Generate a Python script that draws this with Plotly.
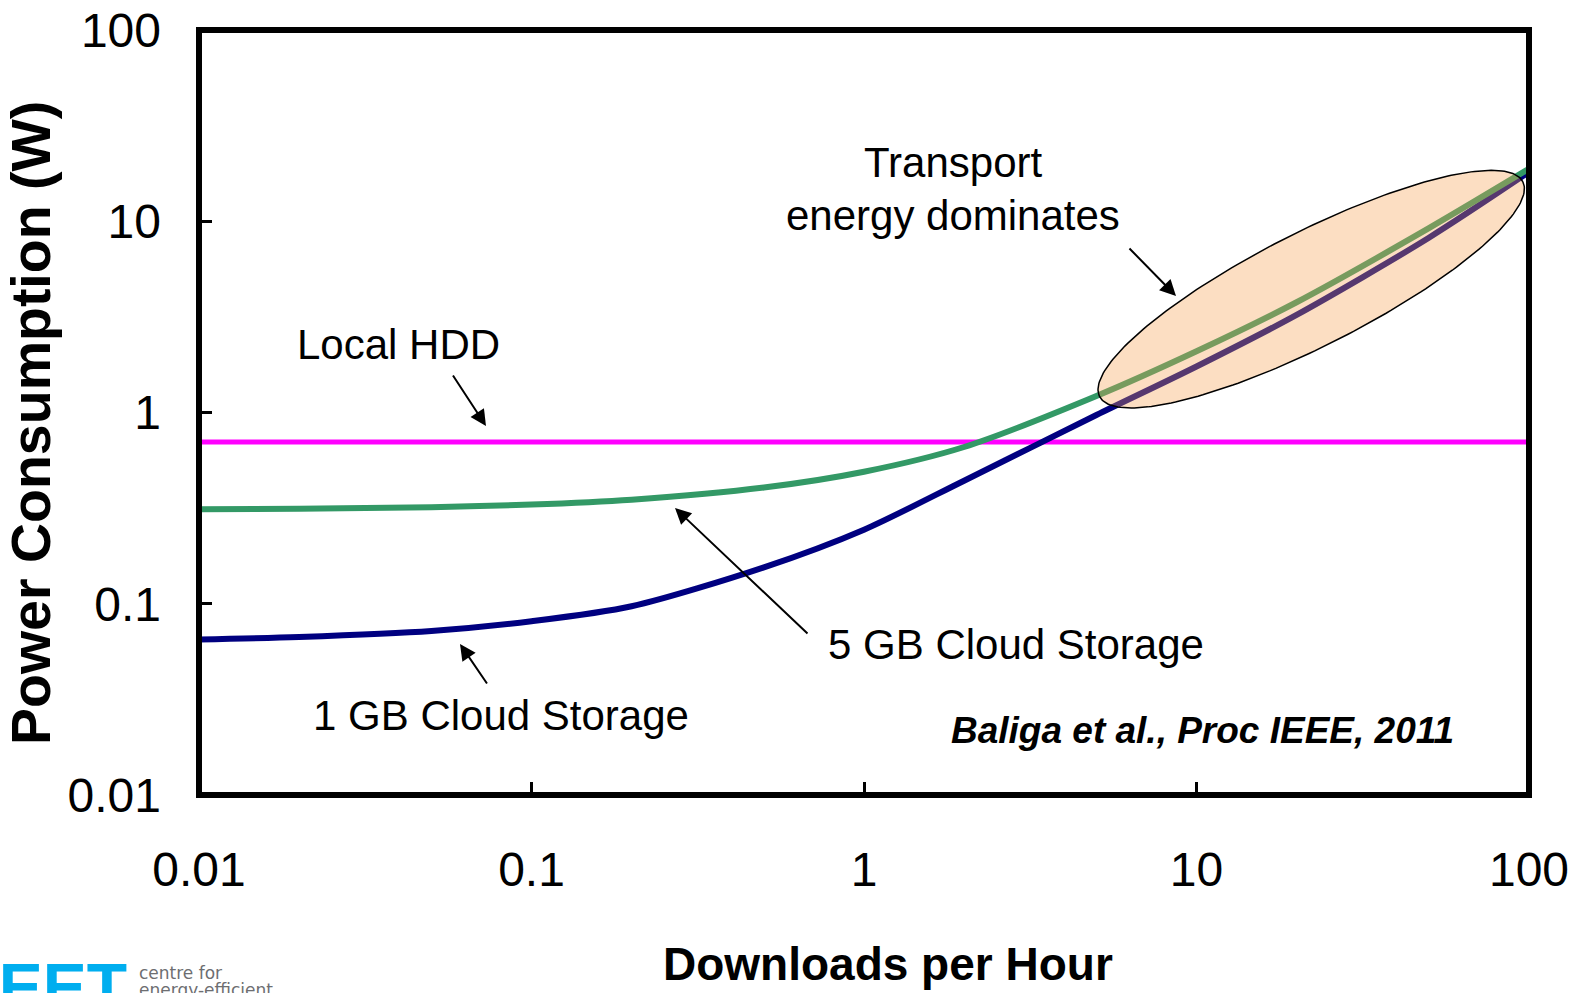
import numpy as np
import plotly.graph_objects as go

# Downloads per hour (x) and power consumption in watts (y)
downloads = [0.01, 0.02, 0.05, 0.1, 0.2, 0.5, 1, 2, 5, 10, 20, 50, 100]
cloud_1gb = [0.065, 0.067, 0.072, 0.081, 0.097, 0.155, 0.244, 0.44, 0.97, 1.74, 3.24, 8.2, 18.1]
cloud_5gb = [0.312, 0.314, 0.32, 0.33, 0.35, 0.405, 0.49, 0.66, 1.22, 2.09, 3.77, 9.2, 18.8]
local_hdd_x = [0.01, 100]
local_hdd = [0.70, 0.70]

tick_vals = [0.01, 0.1, 1, 10, 100]
tick_text = ["0.01", "0.1", "1", "10", "100"]

# Page / plot-area geometry (pixels)
FIG_W, FIG_H = 1585, 993
L, T, R, B = 199, 30, 56, 198
PW, PH = FIG_W - L - R, FIG_H - T - B


def px(xp):
    return (xp - L) / PW


def py(yp):
    return (T + PH - yp) / PH


FONT = "Liberation Sans, Arial, sans-serif"

fig = go.Figure()

fig.add_trace(go.Scatter(x=local_hdd_x, y=local_hdd, mode="lines",
                         line=dict(color="#FF00FF", width=5), name="Local HDD"))
fig.add_trace(go.Scatter(x=downloads, y=cloud_1gb, mode="lines",
                         line=dict(color="#000080", width=6, shape="spline", smoothing=0.8),
                         name="1 GB Cloud Storage"))
fig.add_trace(go.Scatter(x=downloads, y=cloud_5gb, mode="lines",
                         line=dict(color="#339966", width=6, shape="spline", smoothing=0.8),
                         name="5 GB Cloud Storage"))

# Highlight ellipse around the transport-dominated region (in log10 axis units)
ell_cx, ell_cy = 1.345, 0.645          # centre: log10(downloads), log10(W)
ell_a, ell_b = 237.3, 57.0             # semi-axes in screen pixels
ell_ang = np.deg2rad(26.9)
xdec, ydec = PW / 4.0, PH / 4.0        # pixels per decade on each axis
t = np.linspace(0, 2 * np.pi, 241)
dx = ell_a * np.cos(ell_ang) * np.cos(t) - ell_b * np.sin(ell_ang) * np.sin(t)
dy = ell_a * np.sin(ell_ang) * np.cos(t) + ell_b * np.cos(ell_ang) * np.sin(t)
fig.add_trace(go.Scatter(x=10 ** (ell_cx + dx / xdec), y=10 ** (ell_cy + dy / ydec),
                         mode="lines", fill="toself",
                         fillcolor="rgba(247,160,80,0.35)",
                         line=dict(color="black", width=1.5), hoverinfo="skip"))

axis_common = dict(type="log", showline=False, automargin=False,
                   ticks="inside", ticklen=13, tickwidth=2.5, tickcolor="black",
                   showgrid=False, zeroline=False,
                   tickvals=tick_vals, ticktext=tick_text,
                   tickfont=dict(family=FONT, size=48, color="black"))

fig.update_layout(
    width=FIG_W, height=FIG_H,
    margin=dict(l=L, r=R, t=T, b=B, pad=0),
    paper_bgcolor="white", plot_bgcolor="white",
    showlegend=False,
    xaxis=dict(range=[-2, 2], ticklabelstandoff=42, **axis_common),
    yaxis=dict(range=[-2, 2], ticklabelstandoff=37, **axis_common),
    # heavy frame centred on the plot-area boundary
    shapes=[dict(type="rect", xref="paper", yref="paper", x0=0, y0=0, x1=1, y1=1,
                 line=dict(color="black", width=6), layer="above")],
)

ann = []


def text(s, x, y, size, bold=False, italic=False, color="black", angle=0,
         xanchor="center", yanchor="middle", family=FONT):
    if bold:
        s = "<b>" + s + "</b>"
    if italic:
        s = "<i>" + s + "</i>"
    ann.append(dict(text=s, x=px(x), y=py(y), xref="paper", yref="paper",
                    xanchor=xanchor, yanchor=yanchor, showarrow=False, textangle=angle,
                    font=dict(family=family, size=size, color=color)))


def arrow(tail, head):
    ann.append(dict(text="", x=px(head[0]), y=py(head[1]), xref="paper", yref="paper",
                    ax=tail[0] - head[0], ay=tail[1] - head[1], showarrow=True,
                    arrowhead=2, arrowsize=1.6, arrowwidth=2, arrowcolor="black",
                    standoff=0, startstandoff=0))


text("Power Consumption (W)", 31, 423, 55.5, bold=True, angle=-90)
text("Downloads per Hour", 888, 964, 46, bold=True)

text("Transport", 953, 162, 42)
text("energy dominates", 953, 215, 42)
text("Local HDD", 398, 344, 42)
text("5 GB Cloud Storage", 1016, 644, 42)
text("1 GB Cloud Storage", 501, 715, 42)
text("Baliga et al., Proc IEEE, 2011", 1202, 730, 37, bold=True, italic=True)

arrow((1128, 247), (1176, 296))
arrow((452, 374), (486, 426))
arrow((809, 635), (675, 508))
arrow((488, 685), (460, 644))

# Organisation logo, bottom-left corner
text("CEET", 129, 948, 66, bold=True, color="#00AEEF", xanchor="right", yanchor="top")
text("centre for", 137, 961, 17, color="#6d6e71", xanchor="left", yanchor="top",
     family="DejaVu Sans, sans-serif")
text("energy-efficient", 137, 978, 17, color="#6d6e71", xanchor="left", yanchor="top",
     family="DejaVu Sans, sans-serif")

fig.update_layout(annotations=ann)

fig.write_html("out.html")
